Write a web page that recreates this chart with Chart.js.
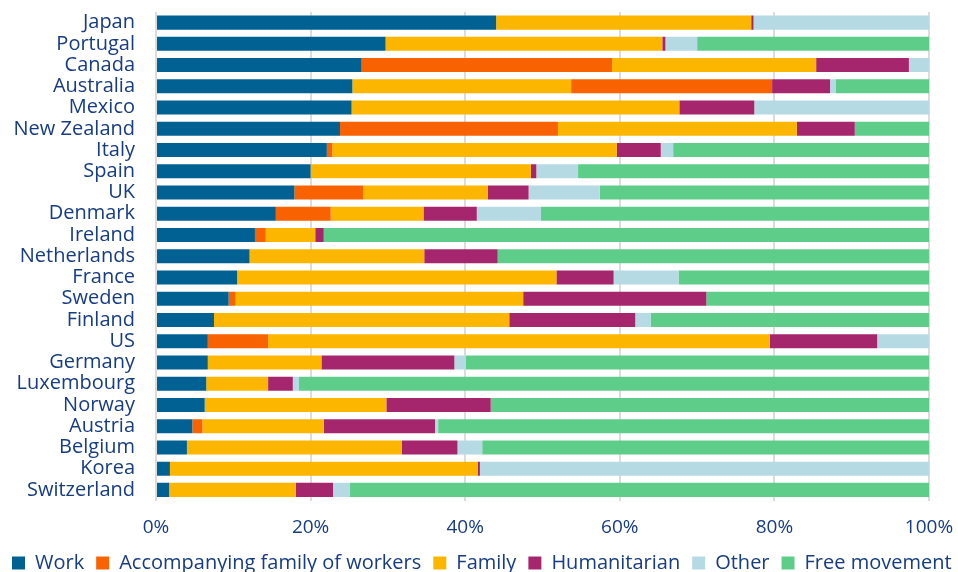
<!DOCTYPE html>
<html>
<head>
<meta charset="utf-8">
<script src="https://cdn.jsdelivr.net/npm/chart.js@4/dist/chart.umd.min.js"></script>
<style>
  html, body { margin: 0; padding: 0; background: #ffffff; }
  #wrap { width: 958px; height: 572px; position: relative; }
</style>
</head>
<body>
<div id="wrap"><canvas id="c"></canvas></div>
<script>
const categories = ['Japan', 'Portugal', 'Canada', 'Australia', 'Mexico', 'New Zealand', 'Italy', 'Spain', 'UK', 'Denmark', 'Ireland', 'Netherlands', 'France', 'Sweden', 'Finland', 'US', 'Germany', 'Luxembourg', 'Norway', 'Austria', 'Belgium', 'Korea', 'Switzerland'];
const work = [44.0, 29.7, 26.6, 25.4, 25.3, 23.8, 22.1, 20.0, 17.9, 15.5, 12.8, 12.1, 10.5, 9.4, 7.5, 6.7, 6.7, 6.5, 6.3, 4.7, 4.0, 1.8, 1.7];
const accompanying = [0, 0, 32.4, 26.0, 0, 28.2, 0.7, 0, 8.9, 7.1, 1.4, 0, 0, 0.9, 0, 7.8, 0, 0, 0, 1.3, 0, 0, 0];
const family = [33.0, 35.8, 26.4, 28.3, 42.4, 30.9, 36.8, 28.5, 16.1, 12.0, 6.4, 22.6, 41.3, 37.2, 38.2, 64.9, 14.7, 8.0, 23.5, 15.7, 27.8, 39.8, 16.4];
const humanitarian = [0.3, 0.4, 12.0, 7.5, 9.7, 7.5, 5.7, 0.7, 5.3, 6.9, 1.1, 9.5, 7.4, 23.7, 16.3, 13.9, 17.2, 3.2, 13.5, 14.4, 7.2, 0.3, 4.8];
const other = [22.7, 4.1, 2.6, 0.7, 22.6, 0, 1.6, 5.4, 9.2, 8.3, 0, 0, 8.4, 0, 2.0, 6.7, 1.5, 0.8, 0, 0.4, 3.2, 58.1, 2.2];
const freeMovement = [0, 30.0, 0, 12.1, 0, 9.6, 33.1, 45.4, 42.6, 50.2, 78.3, 55.8, 32.4, 28.8, 36.0, 0, 59.9, 81.5, 56.7, 63.5, 57.8, 0, 74.9];
const xTicks = [0, 20, 40, 60, 80, 100];
// In the source, the "Accompanying family" segment of these rows is drawn after "Family"
const accompanyingAfterFamily = ['Australia'];

const COL = {
  work: '#006192', acc: '#F86200', family: '#FDB600',
  hum: '#A6266E', other: '#B6DAE4', free: '#5FCD8A'
};
const TEXT = '#163C86';
const FONT = "'Open Sans', 'DejaVu Sans', sans-serif";

const accBefore = accompanying.map((v, i) => accompanyingAfterFamily.includes(categories[i]) ? 0 : v);
const accAfter = accompanying.map((v, i) => accompanyingAfterFamily.includes(categories[i]) ? v : 0);

const datasets = [
  { label: 'Work', data: work, backgroundColor: COL.work },
  { label: 'Accompanying family of workers', data: accBefore, backgroundColor: COL.acc },
  { label: 'Family', data: family, backgroundColor: COL.family },
  { label: 'Accompanying family of workers', data: accAfter, backgroundColor: COL.acc, _hideLegend: true },
  { label: 'Humanitarian', data: humanitarian, backgroundColor: COL.hum },
  { label: 'Other', data: other, backgroundColor: COL.other },
  { label: 'Free movement', data: freeMovement, backgroundColor: COL.free }
].map(d => Object.assign({ borderWidth: 0, categoryPercentage: 1.0, barPercentage: 0.66 }, d));

const LEGEND_H = 30;
const LEGEND_DX = 0;
const LEGEND_DY = -1;
const legendTweak = {
  id: 'legendTweak',
  afterInit(chart) {
    const lg = chart.legend;
    if (lg && !lg._tweaked) {
      const origFit = lg.fit;
      lg.fit = function () {
        const mw = this.maxWidth;
        this.maxWidth = 5000;
        origFit.call(this);
        this.maxWidth = mw;
        this.width = mw;
        this.height = LEGEND_H;
      };
      const origDraw = lg.draw;
      lg.draw = function () {
        if (!this.options.display) return;
        if (typeof this._draw === 'function') {
          const l = this.left, r = this.right, t = this.top;
          this.left = l + LEGEND_DX;
          this.right = 5000;
          this.top = t + LEGEND_DY;
          this._draw();
          this.left = l; this.right = r; this.top = t;
        } else {
          origDraw.call(this);
        }
      };
      lg._tweaked = true;
    }
  }
};

new Chart(document.getElementById('c'), {
  type: 'bar',
  data: { labels: categories, datasets },
  plugins: [legendTweak],
  options: {
    indexAxis: 'y',
    responsive: true,
    maintainAspectRatio: false,
    animation: false,
    layout: { padding: { top: 12, right: 29, bottom: 0, left: 0 } },
    plugins: {
      tooltip: { enabled: false },
      legend: {
        position: 'bottom',
        align: 'start',
        labels: {
          color: TEXT,
          font: { family: FONT, size: 20 },
          boxWidth: 13,
          boxHeight: 13,
          padding: 12,
          filter: (item, data) => !data.datasets[item.datasetIndex]._hideLegend
        }
      }
    },
    scales: {
      x: {
        stacked: true,
        min: 0,
        max: 100,
        afterBuildTicks: (s) => { s.ticks = xTicks.map(v => ({ value: v })); },
        ticks: {
          color: TEXT,
          font: { family: FONT, size: 19 },
          padding: 16,
          callback: (v) => v + '%'
        },
        grid: { color: '#dcdcdc', lineWidth: 2, drawTicks: false },
        border: { display: false },
        afterFit: (s) => { s.height = 41.5; s.paddingLeft = 0; s.paddingRight = 0; }
      },
      y: {
        stacked: true,
        ticks: {
          color: TEXT,
          font: { family: FONT, size: 20 },
          padding: 21,
          autoSkip: false
        },
        grid: { display: false, drawTicks: false },
        border: { display: false },
        afterFit: (s) => { s.width = 156; s.paddingTop = 0; s.paddingBottom = 0; }
      }
    }
  }
});
</script>
</body>
</html>
